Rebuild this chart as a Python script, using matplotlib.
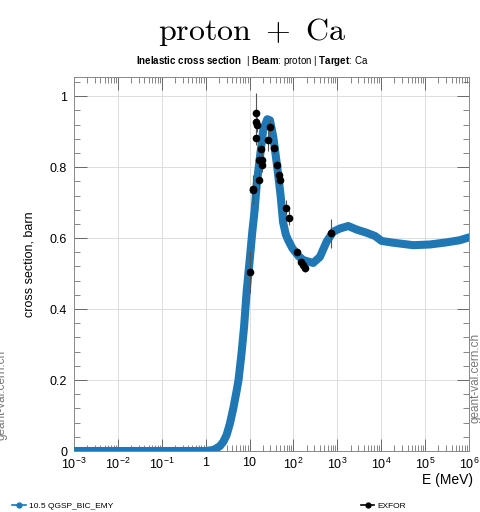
import numpy as np
import matplotlib
matplotlib.use("Agg")
import matplotlib.pyplot as plt
from matplotlib.ticker import LogLocator, MultipleLocator, FixedLocator, NullFormatter
from matplotlib.lines import Line2D

plt.rcParams['font.family'] = ['Liberation Sans', 'DejaVu Sans']
plt.rcParams['mathtext.fontset'] = 'custom'
plt.rcParams['mathtext.rm'] = 'Liberation Sans'
plt.rcParams['mathtext.it'] = 'Liberation Sans:italic'
plt.rcParams['mathtext.bf'] = 'Liberation Sans:bold'

# Geant4 10.5 QGSP_BIC_EMY curve
sim_E = [0.001, 0.01, 0.1, 1.0, 1.5, 1.78, 2.12, 2.52, 3.0, 3.58, 4.26, 5.0, 5.6, 6.5,
         7.5, 8.6, 10.2, 11.6, 13.1, 14.5, 17.3, 20.5, 25.3, 29.2, 34.7, 42.8, 51, 58,
         67, 76, 95, 129, 167, 282, 401, 570, 808, 1145, 1774, 2754, 4650, 7190, 10200,
         18750, 53600, 128800, 309000, 616600, 1000000]
sim_xs = [0.0, 0.0, 0.0, 0.0, 0.003, 0.008, 0.014, 0.026, 0.045, 0.078, 0.12, 0.165, 0.2,
          0.27, 0.35, 0.45, 0.545, 0.62, 0.68, 0.75, 0.83, 0.905, 0.935, 0.932, 0.885,
          0.80, 0.72, 0.645, 0.61, 0.594, 0.571, 0.55, 0.538, 0.530, 0.547, 0.590, 0.618,
          0.627, 0.634, 0.624, 0.615, 0.606, 0.592, 0.587, 0.580, 0.582, 0.588, 0.594,
          0.602]

# EXFOR data
exp_E = [13.8, 13.8, 14.5, 14.0, 17.9, 16.1, 19.1, 19.5, 16.5, 12.1, 11.7, 25.8, 29.2,
         36, 41.4, 46, 49, 67.4, 80.3, 122, 146, 162, 183, 703, 10.4]
exp_xs = [0.953, 0.928, 0.920, 0.883, 0.850, 0.820, 0.820, 0.806, 0.765, 0.737, 0.735,
          0.876, 0.913, 0.853, 0.806, 0.777, 0.765, 0.686, 0.658, 0.561, 0.533, 0.524,
          0.515, 0.613, 0.505]
exp_err = [0.055, 0.03, 0.02, 0.02, 0.02, 0.02, 0.02, 0.02, 0.03, 0.04, 0.04, 0.03, 0.02,
           0.015, 0.015, 0.015, 0.015, 0.02, 0.02, 0.01, 0.01, 0.01, 0.01, 0.04, 0.06]

x_ticks = [1e-3, 1e-2, 1e-1, 1, 10, 1e2, 1e3, 1e4, 1e5, 1e6]
x_labels = [r'$10^{-3}$', r'$10^{-2}$', r'$10^{-1}$', '1', '10', r'$10^{2}$',
            r'$10^{3}$', r'$10^{4}$', r'$10^{5}$', r'$10^{6}$']
y_ticks = [0, 0.2, 0.4, 0.6, 0.8, 1]
y_labels = ['0', '0.2', '0.4', '0.6', '0.8', '1']

blue = '#1f77b4'

fig = plt.figure(figsize=(4.81, 5.12), dpi=100)
ax = fig.add_axes([74/481, 1-451/512, (469-74)/481, (451-77)/512])

ax.plot(sim_E, sim_xs, color=blue, lw=5.8, solid_capstyle='round',
        solid_joinstyle='round', zorder=3)
ax.errorbar(exp_E, exp_xs, yerr=exp_err, fmt='o', color='black', ms=4.5,
            ecolor='#555555', elinewidth=0.8, capsize=0, zorder=4)

ax.set_xscale('log')
ax.set_xlim(1e-3, 1e6)
ax.set_ylim(0, 1.054)

ax.set_xticks(x_ticks)
ax.set_xticklabels(x_labels)
ax.xaxis.set_minor_locator(LogLocator(base=10, subs=np.arange(2, 10), numticks=20))
ax.xaxis.set_minor_formatter(NullFormatter())
ax.set_yticks(y_ticks)
ax.set_yticklabels(y_labels)
ax.yaxis.set_minor_locator(MultipleLocator(0.04))

ax.tick_params(which='both', direction='in', top=True, right=True, labelsize=9,
               color='#555555')
ax.tick_params(which='major', length=9, width=0.6)
ax.tick_params(which='minor', length=4.5, width=0.5)
ax.tick_params(axis='x', pad=4)
ax.tick_params(axis='y', pad=5)
ax.grid(True, which='major', color='#dddddd', lw=0.7)
ax.set_axisbelow(True)
for s in ax.spines.values():
    s.set_color('#888888')
    s.set_linewidth(0.7)

ax.set_ylabel('cross section, barn', fontsize=9, labelpad=10)
fig.text(448/481, 1-480/512, 'E (MeV)', fontsize=10, ha='center', va='center')

fig.text(252/481, 1-32/512, r'$\mathrm{proton}\ +\ \mathrm{Ca}$', fontsize=23,
         ha='center', va='center', math_fontfamily='cm')
fig.text(252/481, 1-61/512,
         r'$\mathbf{Inelastic\ cross\ section}$  | $\mathbf{Beam}$: proton | $\mathbf{Target}$: Ca',
         fontsize=7, ha='center', va='center')

fig.text(476/481, 1-378/512, 'geant-val.cern.ch', rotation=90, fontsize=8.5,
         color='#777777', ha='center', va='center')
fig.text(2/481, 1-395/512, 'geant-val.cern.ch', rotation=90, fontsize=8.5,
         color='#777777', ha='center', va='center')

h1 = Line2D([], [], color=blue, lw=1.2, marker='o', ms=3.5)
h2 = Line2D([], [], color='black', lw=1.2, marker='o', ms=3.5)
fig.legend(handles=[h1], labels=['10.5 QGSP_BIC_EMY'], loc='center left',
           bbox_to_anchor=(0.01, 1-506/512), frameon=False, fontsize=6,
           handlelength=1.6, handletextpad=0.4)
fig.legend(handles=[h2], labels=['EXFOR'], loc='center left',
           bbox_to_anchor=(0.735, 1-506/512), frameon=False, fontsize=6,
           handlelength=1.6, handletextpad=0.4)

fig.savefig('out.png', dpi=100)
